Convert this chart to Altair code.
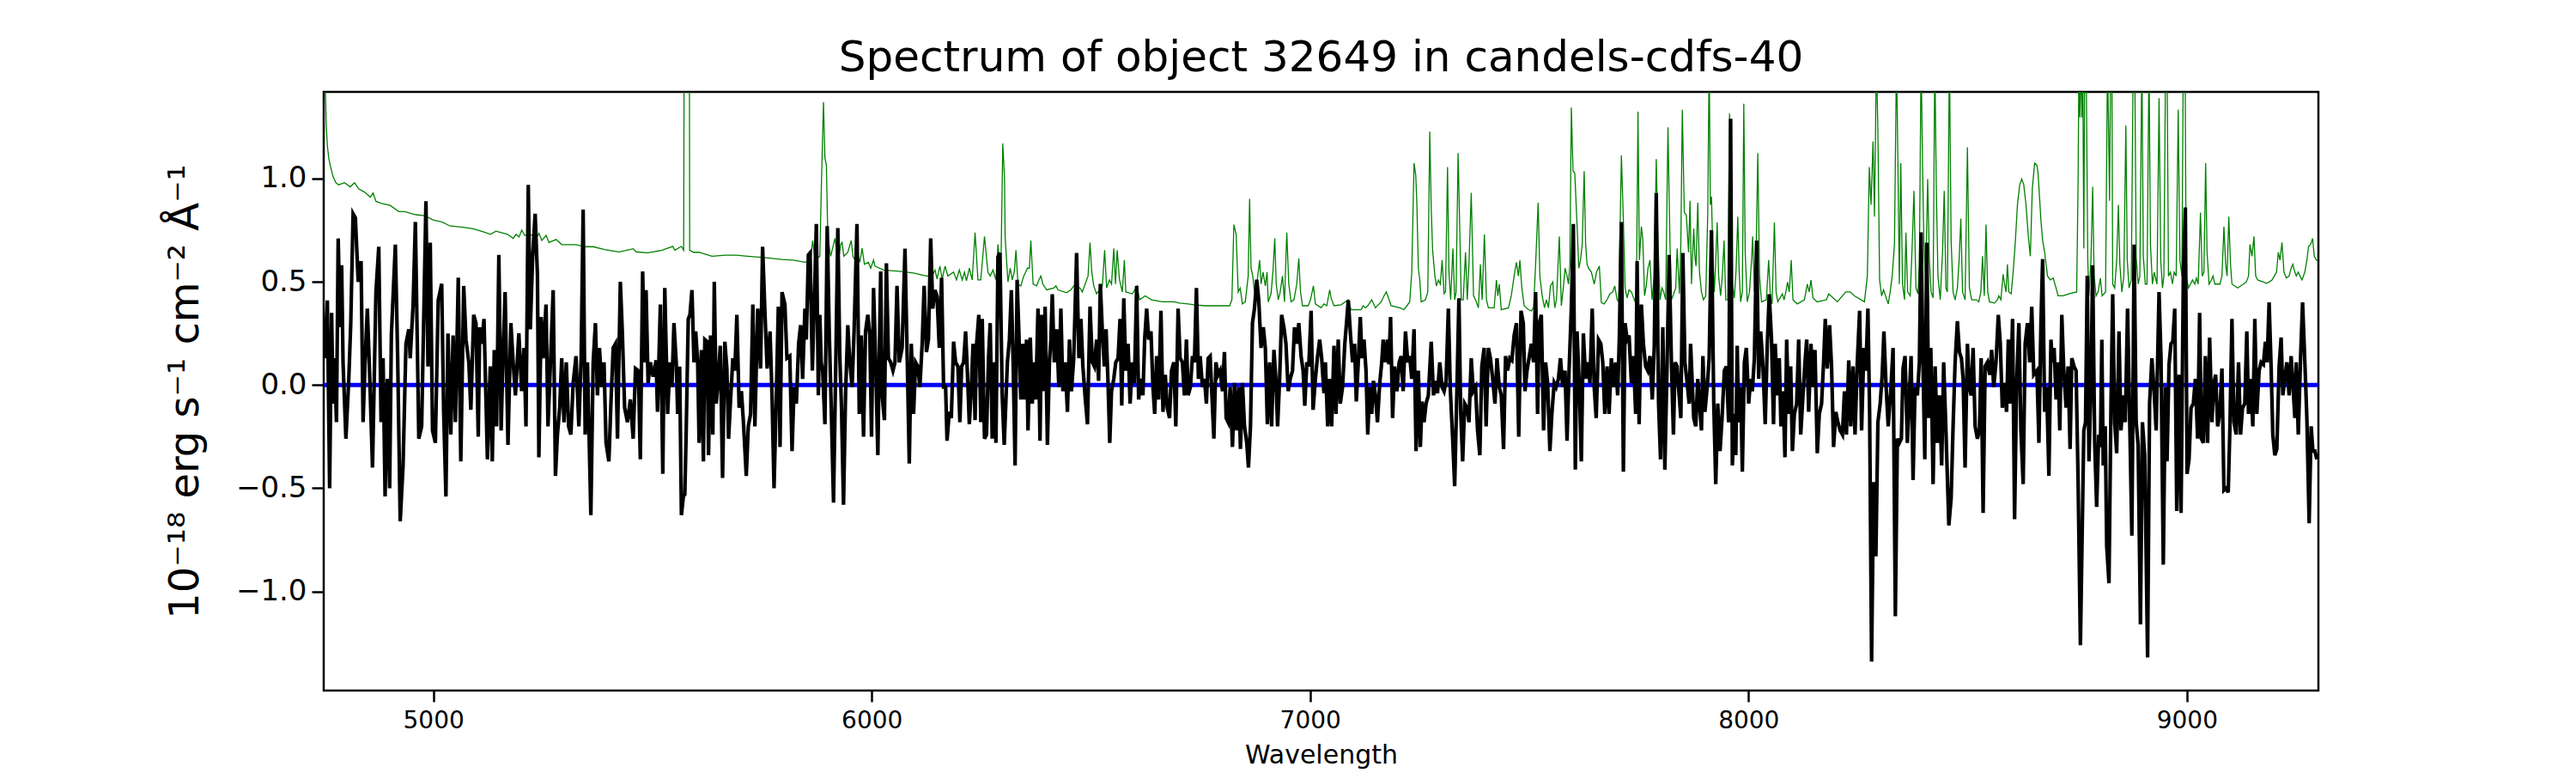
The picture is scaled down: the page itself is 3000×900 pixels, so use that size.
import altair as alt
import pandas as pd

TITLE = "Spectrum of object 32649 in candels-cdfs-40"
X_TITLE = "Wavelength"
Y_TITLE = "10\u207b\u00b9\u2078 erg s\u207b\u00b9 cm\u207b\u00b2 \u00c5\u207b\u00b9"
X_DOMAIN = [4750, 9300]
Y_DOMAIN = [-1.48, 1.42]
X_TICKS = [5000, 6000, 7000, 8000, 9000]
Y_TICKS = [-1.0, -0.5, 0.0, 0.5, 1.0]

FLUX_A = [
(4751.7,0.13),(4758.3,0.41),(4763.5,-0.50),(4768.0,0.35),(4771.3,-0.09),(4774.6,0.13),(4779.1,-0.18),(4783.0,0.71),
(4787.6,0.28),(4790.9,0.58),(4794.1,0.11),(4800.6,-0.26),(4807.2,0.03),(4811.7,0.30),(4817.0,0.83),(4822.2,0.81),
(4828.7,0.50),(4835.2,0.60),(4839.8,-0.18),(4844.3,0.11),(4849.5,0.37),(4854.8,0.05),(4861.3,-0.40),(4869.1,0.45),
(4875.6,0.67),(4880.8,-0.18),(4885.4,0.13),(4890.0,-0.54),(4895.2,0.03),(4900.4,-0.50),(4904.3,0.24),(4913.4,0.68),
(4918.7,0.13),(4924.5,-0.66),(4931.0,-0.39),(4937.6,0.20),(4944.1,0.27),(4947.3,0.13),(4953.9,0.39),(4959.1,0.79),
(4966.9,-0.26),(4973.4,-0.20),(4983.2,0.89),(4987.8,0.09),(4993.0,0.69),(4998.2,-0.22),(5004.7,-0.28),(5011.2,0.41),
(5019.1,0.49),(5023.6,-0.13),(5028.8,-0.54),(5033.4,0.25),(5039.9,-0.24),(5045.1,0.24),(5050.4,-0.18),(5056.9,0.52),
(5062.7,-0.37),(5069.3,0.48),(5074.5,0.22),(5081.0,0.11),(5085.6,-0.12),(5092.1,0.34),(5097.3,0.30),(5102.5,-0.25),
(5105.8,0.28),(5110.3,0.20),(5115.6,0.32),(5123.4,-0.36),(5129.9,0.09),(5134.5,-0.37),(5139.0,0.17),(5144.3,-0.20),
(5149.5,0.63),(5154.7,-0.22),(5159.2,0.15),(5163.8,0.45),(5170.3,-0.29),(5176.9,0.30),(5182.1,0.11),(5187.3,-0.05),
(5195.1,0.25),(5201.6,-0.03),(5206.9,0.18),(5211.4,-0.20),(5216.6,0.97),(5221.2,0.27),(5226.4,0.61),(5232.3,0.83),
(5237.5,0.53),(5240.8,-0.35),(5246.0,0.33),(5250.5,0.13),(5257.1,0.39),(5261.6,-0.20),(5266.9,0.09),(5273.4,0.46),
(5278.6,-0.44),(5283.1,-0.24),(5288.3,-0.11),(5292.9,0.13),(5298.1,-0.18),(5303.3,0.11),(5308.6,-0.20),(5313.8,-0.24),
(5319.0,0.01),(5325.5,0.14),(5332.0,-0.20),(5337.2,0.13),(5341.8,0.85),(5346.4,-0.24),(5351.6,0.11),(5354.8,-0.20),
(5359.4,-0.63),(5364.6,0.11),(5369.8,0.30),(5374.4,-0.05),(5379.0,0.18),(5384.2,-0.01),(5389.4,0.11),(5394.0,-0.28),
(5400.5,-0.37),(5405.1,-0.09),(5410.3,0.18),(5415.5,0.20),(5420.1,-0.26),(5426.6,0.50),(5431.1,0.26),(5436.4,-0.11),
(5442.9,-0.18),(5449.4,-0.07),(5455.9,-0.26),(5461.2,0.08),(5467.7,0.07),(5472.2,-0.36),(5477.5,0.55),(5482.0,0.11),
(5485.3,0.46),(5489.9,0.01),(5495.1,0.11),(5501.6,0.04),(5508.2,0.12),(5511.4,-0.13),(5517.9,0.39),
]
FLUX_B = [
(5523.5,-0.43),(5528.0,0.47),(5534.5,-0.14),(5539.8,0.11),(5544.3,-0.01),(5548.9,0.30),(5554.1,0.11),(5557.4,-0.14),
(5561.9,0.09),(5565.9,-0.63),(5570.4,-0.54),(5573.7,-0.53),(5576.9,-0.22),(5581.5,0.32),(5585.4,0.34),(5590.0,0.46),
(5594.6,0.11),(5598.5,0.26),(5603.0,0.11),(5606.3,-0.28),(5611.5,0.17),(5616.1,-0.37),(5619.3,0.22),(5624.6,0.21),
(5627.8,-0.34),(5632.4,0.24),(5637.6,-0.24),(5640.9,0.50),(5645.4,-0.09),(5650.0,0.03),(5654.6,0.19),(5659.8,-0.45),
(5665.0,0.21),(5669.6,0.08),(5673.5,-0.26),(5678.1,-0.07),(5683.3,0.13),(5687.8,0.07),(5692.4,0.34),(5697.6,-0.11),
(5702.8,-0.03),(5707.4,-0.18),(5713.9,-0.44),(5718.5,-0.20),(5723.7,-0.14),(5728.9,0.39),(5733.5,-0.20),(5740.0,0.37),
(5746.5,0.08),(5751.1,0.67),(5756.3,0.36),(5761.5,0.08),(5768.1,0.26),(5772.6,-0.05),(5777.2,-0.50),(5782.4,-0.05),
(5787.0,0.38),(5790.9,-0.30),(5795.5,0.45),(5802.0,0.39),(5806.6,0.13),(5813.1,0.14),(5818.3,-0.32),(5822.9,-0.01),
(5828.1,-0.09),(5833.3,0.20),(5837.9,0.29),(5842.4,0.03),(5847.7,0.37),(5850.9,0.22),(5855.5,0.63),(5859.4,0.64),
(5864.6,0.07),(5868.5,0.36),(5873.7,0.78),(5878.3,-0.05),(5881.6,0.34),(5884.8,0.11),(5888.1,0.07),(5893.3,-0.19),
(5898.5,0.77),(5903.1,0.26),(5907.7,-0.11),(5912.9,-0.57),(5918.1,0.11),(5922.7,0.76),(5927.2,0.14),(5931.1,-0.11),
(5935.7,-0.58),(5940.3,-0.05),(5945.5,0.29),(5950.1,0.11),(5955.3,-0.01),(5959.8,0.26),(5966.4,0.78),(5971.6,-0.14),
(5976.1,0.24),(5981.4,-0.25),(5985.9,0.26),(5991.1,0.34),(5995.7,0.24),(5999.6,-0.25),(6004.2,0.47),(6008.8,0.13),
(6014.0,-0.34),(6017.2,0.13),(6020.5,0.55),(6023.8,-0.05),(6029.0,-0.17),(6033.5,0.59),(6038.1,0.13),(6043.3,0.11),
(6048.5,0.07),(6053.1,0.11),(6057.7,0.48),(6062.9,0.11),(6069.4,0.18),(6075.9,0.66),(6081.2,0.11),(6085.7,-0.38),
(6090.3,0.20),(6095.5,-0.14),(6100.1,0.11),(6105.3,0.09),(6109.9,-0.01),(6115.1,0.20),(6119.6,0.48),(6124.9,0.16),
(6129.4,0.22),(6134.6,0.71),(6139.2,0.37),(6144.4,0.46),(6149.0,0.43),(6154.2,0.18),(6159.4,0.52),(6164.0,-0.01),
(6168.6,-0.01),(6171.8,-0.27),(6177.0,-0.13),(6181.6,-0.16),(6186.8,0.21),(6191.4,0.11),(6196.6,0.09),(6201.2,-0.18),
(6205.1,0.09),(6209.7,0.11),(6214.2,0.26),(6218.1,0.07),(6222.7,-0.19),(6227.3,-0.01),(6231.2,0.20),(6235.8,-0.17),
(6239.0,0.19),(6244.3,0.34),(6248.8,-0.18),(6252.1,0.32),(6257.3,-0.26),(6261.9,-0.24),(6266.4,0.13),(6270.3,0.30),
(6274.9,-0.26),(6279.5,0.11),(6283.4,-0.28),(6288.0,0.62),(6292.5,0.64),(6297.7,-0.05),(6302.3,-0.29),
]
FLUX_C = [
(6309.5,0.11),(6314.1,0.22),(6318.6,0.46),(6322.6,0.11),(6327.1,-0.39),(6331.7,0.51),(6335.6,0.26),(6340.2,-0.07),
(6344.7,0.20),(6348.7,-0.07),(6353.2,0.22),(6356.5,-0.22),(6361.7,0.23),(6366.3,-0.09),(6369.5,0.11),(6374.1,-0.07),
(6379.3,0.37),(6383.9,-0.27),(6387.8,0.34),(6392.4,-0.03),(6395.6,0.38),(6400.8,-0.29),(6405.4,0.11),(6408.7,0.22),
(6411.9,0.44),(6416.5,0.11),(6421.7,0.27),(6426.9,-0.01),(6431.5,0.37),(6436.1,-0.03),(6441.3,0.11),(6446.5,-0.13),
(6451.1,0.22),(6455.6,-0.03),(6460.8,0.13),(6467.4,0.64),(6472.6,0.13),(6477.2,0.32),(6481.7,0.09),(6486.9,-0.06),
(6492.2,-0.19),(6498.0,0.38),(6503.3,0.11),(6507.8,0.09),(6513.0,0.22),(6517.6,0.02),(6521.5,0.49),(6526.1,0.26),
(6530.6,0.09),(6534.6,0.27),(6539.1,0.01),(6543.0,-0.28),(6547.0,-0.03),(6552.2,0.03),(6556.7,0.11),(6562.0,0.13),
(6566.5,0.32),(6570.4,-0.10),(6575.0,0.42),(6579.6,0.07),(6584.8,0.20),(6589.4,-0.09),(6594.6,0.11),(6599.1,0.01),
(6604.4,0.48),(6608.9,-0.07),(6614.1,0.03),(6618.7,-0.05),(6622.6,0.22),(6627.2,0.37),(6631.8,0.22),(6637.0,0.26),
(6641.5,-0.01),(6645.5,-0.14),(6650.0,0.14),(6654.6,-0.07),(6659.8,0.36),(6664.4,-0.13),(6669.6,0.05),(6674.2,-0.11),
(6679.4,-0.16),(6683.9,0.07),(6689.2,0.11),(6693.7,-0.20),(6698.9,0.37),(6703.5,0.13),(6708.7,0.11),(6713.3,-0.05),
(6717.9,0.22),(6721.8,-0.05),(6727.0,-0.01),(6731.6,0.14),(6736.1,0.11),(6740.7,0.47),(6745.3,0.03),(6749.2,0.14),
(6754.4,-0.01),(6759.0,0.03),(6763.5,-0.09),(6767.4,0.13),(6772.0,0.14),(6776.9,-0.09),(6780.5,-0.26),(6785.1,0.11),
(6790.3,0.05),(6794.8,0.07),(6800.1,-0.03),(6804.6,0.16),(6808.5,-0.16),(6813.1,-0.18),(6817.7,-0.01),(6822.9,-0.30),
(6827.5,0.01),(6832.7,-0.22),(6837.2,-0.01),(6841.1,-0.31),(6845.7,0.01),(6850.3,-0.20),(6855.5,-0.28),(6859.4,-0.40),
(6864.0,-0.20),(6868.5,0.30),(6873.1,0.37),(6878.3,0.51),(6882.9,0.41),(6888.1,0.18),(6893.3,0.28),(6897.9,0.18),
(6902.5,-0.19),(6907.7,0.11),(6912.2,-0.20),(6917.5,0.17),(6922.0,0.03),(6925.9,-0.20),(6930.5,0.03),(6935.1,0.34),
(6940.3,0.28),(6944.9,0.20),(6950.1,-0.03),(6954.6,0.03),(6959.9,0.07),(6964.4,0.28),(6969.6,0.20),(6974.2,0.30),
(6979.4,0.14),(6984.0,0.07),(6987.9,-0.10),(6992.5,0.11),(6997.0,0.09),(7002.3,0.36),(7006.8,-0.12),(7012.1,0.03),
(7016.6,0.13),(7021.8,0.22),(7026.4,0.13),(7031.6,-0.04),(7034.9,0.11),(7040.1,-0.20),(7044.7,0.03),(7049.2,-0.20),
(7054.5,0.19),(7059.0,-0.14),(7064.2,0.22),(7068.8,-0.09),(7074.0,-0.01),(7079.2,0.20),(7083.8,0.32),
]
FLUX_D = [
(7087.1,0.41),(7092.3,0.24),(7096.9,0.11),(7101.5,0.20),(7105.4,-0.08),(7109.9,0.11),(7114.5,0.33),(7118.4,0.13),
(7123.0,0.22),(7127.5,0.07),(7131.5,-0.24),(7136.0,-0.01),(7140.6,-0.14),(7144.5,0.02),(7149.1,-0.05),(7153.6,-0.18),
(7158.9,0.01),(7163.4,0.11),(7166.7,0.22),(7171.9,0.11),(7176.5,0.22),(7179.7,0.10),(7183.6,0.33),(7188.2,-0.16),
(7192.8,0.09),(7198.0,-0.03),(7203.2,0.11),(7207.8,0.14),(7212.3,-0.03),(7217.6,0.26),(7222.8,0.11),(7227.3,0.14),
(7231.9,0.03),(7237.1,0.27),(7241.7,-0.32),(7246.9,0.07),(7251.5,-0.30),(7255.4,-0.08),(7260.0,-0.18),(7264.5,-0.09),
(7269.7,-0.05),(7276.3,0.21),(7281.5,-0.05),(7286.1,0.02),(7290.6,-0.04),(7295.8,0.11),(7301.1,-0.01),(7305.6,-0.03),
(7310.2,0.02),(7315.4,0.37),(7320.0,-0.03),(7325.2,-0.26),(7329.8,-0.49),(7335.0,-0.01),(7339.5,0.42),(7343.5,-0.13),
(7348.0,-0.37),(7352.6,-0.09),(7357.8,-0.11),(7362.4,-0.18),(7367.6,0.13),(7372.2,-0.03),(7377.4,-0.01),(7382.0,-0.22),
(7387.2,-0.34),(7391.7,0.09),(7397.0,0.18),(7401.5,-0.20),(7406.7,0.18),(7411.3,0.13),(7416.5,0.03),(7421.7,-0.09),
(7426.3,0.13),(7431.5,-0.01),(7436.1,-0.05),(7441.3,-0.31),(7445.9,0.14),(7450.4,0.07),(7455.6,0.13),(7460.2,0.12),
(7465.4,0.24),(7470.7,0.30),(7475.9,-0.25),(7481.1,0.36),(7486.3,0.30),(7490.2,-0.03),(7494.8,0.07),(7499.4,0.13),
(7504.6,0.20),(7509.8,0.11),(7514.4,0.45),(7518.9,-0.14),(7522.8,0.30),(7527.4,0.34),(7532.6,-0.22),(7537.2,0.11),
(7541.8,0.01),(7547.0,-0.32),(7551.5,-0.14),(7556.8,0.01),(7561.3,-0.01),(7566.5,0.03),(7571.1,0.13),(7576.3,-0.01),
(7581.5,0.07),(7586.1,-0.27),(7590.7,0.07),(7595.9,0.37),(7600.5,0.78),(7605.0,-0.41),(7608.9,0.26),(7614.2,-0.01),
(7618.7,-0.37),(7623.3,0.25),(7628.5,0.03),(7633.1,0.11),(7638.3,0.01),(7643.5,0.37),(7648.1,-0.01),(7652.6,-0.16),
(7657.9,0.22),(7663.1,0.20),(7667.6,0.11),(7672.2,-0.14),(7677.4,0.09),(7682.0,-0.14),(7687.2,0.13),(7691.8,-0.01),
(7697.0,0.11),(7701.6,-0.05),(7705.5,0.24),(7710.1,0.79),(7714.6,-0.42),(7718.5,0.30),(7723.1,0.22),(7727.6,0.24),
(7732.9,0.01),(7737.4,0.14),(7742.7,-0.14),(7745.9,0.60),(7750.5,-0.19),(7755.7,0.39),(7760.3,0.20),(7765.5,0.09),
(7770.1,0.07),(7775.3,0.14),(7780.5,-0.07),(7785.1,0.19),(7789.6,0.93),(7794.9,-0.09),(7799.4,-0.36),(7804.6,0.28),
(7809.2,-0.41),(7814.4,0.11),(7819.0,0.63),(7824.2,0.11),(7828.8,-0.24),(7832.7,0.11),(7837.3,0.09),(7841.8,-0.05),
(7845.7,-0.16),(7850.3,0.64),(7854.9,0.11),(7860.1,0.01),(7864.7,-0.09),(7867.9,0.20),
]
FLUX_E = [
(7875.1,-0.16),(7879.7,-0.20),(7884.3,0.03),(7888.2,-0.09),(7892.7,-0.22),(7896.0,0.14),(7900.6,-0.13),(7905.8,-0.01),
(7910.3,0.13),(7915.6,0.75),(7920.8,-0.09),(7925.3,-0.48),(7929.9,-0.09),(7935.1,-0.32),(7939.7,-0.16),(7944.9,0.07),
(7949.5,0.09),(7954.7,-0.18),(7959.3,1.29),(7963.2,-0.39),(7967.7,-0.14),(7971.0,-0.34),(7974.3,0.19),(7977.5,-0.18),
(7982.1,-0.01),(7986.0,-0.42),(7990.6,0.11),(7995.1,0.18),(8000.4,-0.09),(8004.9,0.03),(8008.8,-0.03),(8013.4,0.13),
(8018.6,0.70),(8023.2,0.03),(8027.8,0.26),(8033.0,0.09),(8038.2,-0.19),(8042.8,0.19),(8047.3,0.44),(8052.5,0.22),
(8057.1,-0.19),(8061.0,0.20),(8065.6,-0.05),(8070.2,0.13),(8074.1,-0.20),(8078.6,-0.03),(8083.2,-0.35),(8087.1,0.22),
(8091.7,-0.14),(8096.2,0.09),(8100.2,-0.32),(8104.7,-0.14),(8109.9,-0.09),(8114.5,0.22),(8119.1,-0.24),(8124.3,-0.05),
(8128.9,0.11),(8132.8,0.22),(8137.3,-0.13),(8142.6,0.20),(8147.1,-0.01),(8151.7,0.17),(8156.9,-0.33),(8161.5,-0.14),
(8166.7,-0.09),(8171.3,0.11),(8175.2,0.32),(8179.7,0.08),(8185.0,0.29),(8189.5,0.09),(8194.1,-0.30),(8199.3,-0.13),
(8203.9,-0.18),(8209.1,-0.22),(8214.3,-0.24),(8218.9,-0.03),(8223.4,-0.24),(8228.7,0.12),(8233.2,-0.20),(8238.4,0.09),
(8243.0,-0.24),(8248.2,0.11),(8253.5,0.36),(8258.0,-0.22),(8263.2,0.18),(8267.8,0.07),(8272.4,0.37),(8276.3,-0.13),
(8280.8,-1.34),(8285.4,-0.47),(8290.6,-0.83),(8295.2,-0.18),(8300.4,-0.09),(8305.0,0.05),(8308.9,0.26),(8313.5,0.01),
(8318.7,-0.20),(8324.5,-0.03),(8329.8,0.18),(8335.0,-1.12),(8339.6,-0.26),(8344.1,-0.28),(8348.7,-0.26),(8352.6,0.08),
(8357.2,0.14),(8362.4,-0.28),(8367.0,-0.05),(8370.9,0.14),(8375.4,-0.46),(8380.0,-0.01),(8385.2,-0.05),(8389.8,0.11),
(8393.7,0.74),(8398.3,0.07),(8402.2,-0.36),(8406.7,0.69),(8411.3,-0.16),(8415.9,0.18),(8421.1,-0.48),(8425.7,0.09),
(8430.9,-0.28),(8435.4,-0.05),(8440.7,-0.39),(8445.2,0.11),(8450.4,-0.22),(8457.0,-0.68),(8462.2,-0.55),(8466.7,-0.20),
(8471.3,0.11),(8476.5,0.31),(8481.1,0.16),(8485.7,0.13),(8489.6,0.03),(8494.1,-0.40),(8499.4,0.20),(8503.9,-0.01),
(8507.8,-0.05),(8512.4,0.18),(8517.0,-0.20),(8522.2,-0.26),(8526.8,-0.22),(8530.7,0.13),(8535.2,-0.62),(8539.8,0.09),
(8545.0,0.11),(8550.3,0.05),(8554.8,0.17),(8559.4,-0.01),(8564.6,0.11),(8569.8,0.34),(8574.4,0.20),(8579.0,-0.11),
(8584.2,0.01),(8588.7,-0.13),(8592.7,0.22),(8597.2,-0.09),(8602.4,0.32),(8607.0,-0.65),(8611.6,0.01),(8616.8,0.30),
(8621.4,-0.22),(8626.6,-0.48),(8631.1,0.20),(8636.4,0.30),(8641.6,0.11),(8646.1,0.38),(8650.7,0.05),
]
FLUX_F = [
(8657.9,0.07),(8662.5,-0.28),(8667.1,0.30),(8671.0,0.61),(8675.5,-0.13),(8680.1,-0.01),(8685.3,-0.44),(8689.9,0.22),
(8693.1,0.11),(8697.1,0.18),(8701.6,-0.07),(8706.2,0.11),(8710.1,-0.22),(8714.7,0.34),(8719.2,0.07),(8724.5,-0.11),
(8729.0,0.09),(8733.6,-0.31),(8737.5,0.13),(8742.7,0.09),(8747.3,0.07),(8751.9,-0.47),(8757.1,-1.26),(8761.6,-0.66),
(8764.9,-0.22),(8768.8,-0.18),(8772.7,0.53),(8776.6,-0.37),(8781.2,-0.01),(8785.1,0.58),(8789.7,-0.28),(8794.2,-0.59),
(8798.8,-0.24),(8802.7,-0.30),(8806.0,0.22),(8809.2,-0.39),(8813.8,-0.20),(8817.1,-0.78),(8822.3,-0.96),(8826.9,-0.09),
(8830.8,0.44),(8835.3,-0.18),(8839.9,-0.33),(8845.1,0.26),(8849.7,-0.22),(8854.9,-0.05),(8859.5,-0.18),(8864.7,0.37),
(8869.3,-0.14),(8874.5,-0.73),(8879.7,0.68),(8884.3,-0.18),(8888.8,-0.29),(8894.1,-1.16),(8898.6,-0.18),(8903.8,-0.34),
(8910.4,-1.32),(8914.9,-0.09),(8920.2,0.13),(8924.7,-0.01),(8929.9,-0.22),(8936.5,0.45),(8941.0,0.13),(8946.2,-0.87),
(8950.8,-0.01),(8954.7,-0.37),(8959.3,0.10),(8963.8,0.20),(8967.8,0.21),(8972.3,0.37),(8976.9,-0.61),(8982.1,0.05),
(8986.7,-0.62),(8991.9,0.53),(8996.5,0.86),(9000.4,-0.43),(9004.9,-0.36),(9009.5,-0.11),(9014.7,-0.09),(9019.3,0.03),
(9024.5,-0.26),(9029.1,0.35),(9033.0,-0.26),(9037.6,-0.28),(9042.1,0.14),(9047.3,-0.28),(9051.9,0.23),(9057.1,-0.18),
(9061.7,0.01),(9065.6,0.05),(9070.2,-0.20),(9075.4,-0.13),(9080.0,0.08),(9084.5,-0.51),(9089.7,-0.50),(9094.3,-0.52),
(9098.2,-0.20),(9102.8,0.32),(9107.3,-0.18),(9112.6,-0.24),(9117.8,0.11),(9122.4,-0.24),(9126.9,-0.11),(9132.1,-0.09),
(9136.7,0.26),(9140.6,-0.14),(9145.2,0.03),(9150.4,-0.20),(9155.0,0.32),(9159.5,-0.14),(9164.8,0.07),(9169.3,0.11),
(9174.5,0.10),(9179.1,0.21),(9183.0,0.11),(9187.6,0.40),(9192.1,0.09),(9196.0,-0.24),(9200.6,-0.34),(9205.2,-0.31),
(9210.4,0.09),(9215.0,0.23),(9218.9,-0.05),(9223.4,0.03),(9228.0,0.11),(9233.2,-0.05),(9237.8,0.14),(9241.7,0.01),
(9246.3,-0.16),(9249.5,0.11),(9254.1,-0.24),(9259.3,0.13),(9263.9,0.40),(9269.1,0.11),(9273.7,-0.16),(9278.9,-0.67),
(9283.5,-0.20),(9287.4,-0.32),(9291.9,-0.32),(9296.5,-0.36),
]

# noise spectrum (wavelength, sigma); sky lines run off the top
NOISE_A = [
(4750.0,1.90),(4753.5,1.45),(4755.7,1.26),(4758.3,1.16),(4761.5,1.10),(4764.8,1.065),(4771.3,1.01),(4777.8,0.98),
(4784.4,0.97),(4797.4,0.98),(4810.5,0.96),(4820.2,0.98),(4830.0,0.95),(4843.1,0.935),(4856.1,0.91),(4862.6,0.93),
(4869.1,0.89),(4882.2,0.88),(4901.8,0.87),(4921.3,0.84),(4934.4,0.84),(4960.5,0.825),(4980.1,0.82),(4999.6,0.80),
(5019.2,0.79),(5038.8,0.77),(5064.8,0.765),(5091.0,0.757),(5117.0,0.74),(5130.1,0.73),(5143.1,0.745),(5169.2,0.73),
(5182.3,0.71),(5188.8,0.73),(5195.3,0.717),(5201.8,0.75),(5208.4,0.725),(5221.4,0.73),(5234.5,0.71),(5241.0,0.735),
(5247.5,0.70),(5257.3,0.725),(5263.8,0.69),(5280.1,0.705),(5293.2,0.68),(5325.8,0.68),(5345.3,0.67),(5364.9,0.67),
(5391.0,0.656),(5423.6,0.645),(5456.2,0.66),(5462.8,0.645),(5488.8,0.64),(5521.5,0.653),
]
NOISE_B = [
(5546.3,0.672),(5550.9,0.653),(5565.9,0.672),(5571.1,0.653),(5573.0,2.5),(5583.5,2.5),(5584.8,0.653),(5593.3,0.643),
(5606.3,0.643),(5635.7,0.624),(5665.0,0.629),(5691.1,0.629),(5717.2,0.624),(5743.3,0.620),(5769.4,0.614),(5795.5,0.608),
(5821.6,0.605),(5847.7,0.595),(5860.7,0.605),(5865.3,0.700),(5870.5,0.605),(5881.6,0.624),(5885.5,0.99),(5890.0,1.37),
(5893.3,1.10),(5896.6,1.065),(5899.8,0.72),(5906.4,0.624),(5912.9,0.681),(5916.1,0.71),(5920.7,0.643),(5924.6,0.614),
(5929.2,0.681),(5932.5,0.691),(5936.4,0.624),(5945.5,0.643),(5953.3,0.70),(5957.2,0.624),(5961.8,0.605),(5968.3,0.633),
(5972.9,0.595),(5978.1,0.662),(5983.3,0.585),(5992.5,0.595),(5997.7,0.566),(6004.2,0.605),(6007.5,0.576),(6027.0,0.557),
(6062.9,0.551),(6095.5,0.543),(6124.9,0.528),(6137.9,0.528),(6144.4,0.557),(6149.0,0.514),(6155.5,0.576),(6160.7,0.514),
(6167.3,0.576),(6173.8,0.528),(6186.8,0.547),(6193.4,0.509),(6199.9,0.557),(6206.4,0.509),(6211.6,0.547),(6216.2,0.505),
(6222.7,0.566),(6229.2,0.509),(6235.8,0.739),(6242.3,0.509),(6248.8,0.509),(6257.3,0.72),(6265.1,0.547),(6270.3,0.528),
(6276.7,0.557),(6283.4,0.509),(6288.0,0.681),(6294.5,0.528),(6299.0,1.17),(6303.0,1.00),
]
NOISE_C = [
(6304.3,0.72),(6307.6,0.605),(6310.8,0.50),(6316.0,0.566),(6320.6,0.509),(6325.2,0.547),(6329.1,0.653),(6333.7,0.489),
(6340.2,0.480),(6346.7,0.528),(6351.3,0.547),(6355.2,0.566),(6359.7,0.566),(6363.0,0.70),(6368.2,0.489),(6376.1,0.480),
(6381.3,0.509),(6385.8,0.528),(6390.4,0.489),(6398.9,0.461),(6415.2,0.470),(6420.4,0.480),(6425.0,0.461),(6444.5,0.447),
(6454.3,0.461),(6460.8,0.480),(6475.2,0.470),(6480.4,0.451),(6486.9,0.489),(6493.5,0.528),(6498.0,0.69),(6502.0,0.547),
(6506.5,0.480),(6513.0,0.442),(6519.6,0.461),(6526.1,0.480),(6531.3,0.653),(6535.9,0.470),(6542.4,0.509),(6547.0,0.489),
(6552.2,0.662),(6556.1,0.489),(6560.0,0.653),(6565.2,0.509),(6571.7,0.451),(6576.3,0.605),(6579.6,0.451),(6594.6,0.442),
(6605.7,0.480),(6610.9,0.413),(6623.9,0.432),(6638.3,0.413),(6663.1,0.403),(6689.2,0.403),(6702.2,0.397),(6721.8,0.393),
(6734.8,0.389),(6760.9,0.384),(6816.4,0.384),(6821.6,0.413),(6826.1,0.777),(6831.4,0.729),(6835.9,0.451),(6840.5,0.470),
(6845.7,0.393),(6852.2,0.403),(6858.8,0.528),(6862.0,0.902),(6865.3,0.566),(6869.2,0.528),(6873.1,0.451),(6878.3,0.489),
(6884.9,0.605),(6888.1,0.489),(6892.7,0.547),(6897.9,0.480),(6901.8,0.547),(6904.4,0.403),(6910.9,0.442),(6915.5,0.557),
(6919.4,0.71),(6922.7,0.489),(6927.3,0.413),(6931.8,0.451),(6937.0,0.528),(6941.6,0.403),(6946.8,0.739),(6951.4,0.489),
(6956.6,0.403),(6963.1,0.413),(6969.6,0.489),(6974.2,0.614),(6978.1,0.451),(6982.7,0.384),(6995.7,0.384),(7000.9,0.413),
(7007.5,0.480),(7012.1,0.393),(7025.1,0.374),(7031.6,0.393),(7038.1,0.384),(7044.7,0.461),(7047.9,0.422),(7054.5,0.384),
(7070.7,0.389),
]
NOISE_D = [
(7087.1,0.413),(7093.6,0.365),(7116.5,0.365),(7121.0,0.384),(7126.2,0.374),(7131.5,0.384),(7140.6,0.413),(7149.1,0.374),
(7162.1,0.403),(7168.6,0.432),(7173.9,0.451),(7184.9,0.384),(7204.5,0.374),(7214.3,0.365),(7220.8,0.384),(7227.3,0.403),
(7231.9,0.547),(7237.1,1.075),(7241.0,1.017),(7243.6,0.873),(7246.9,0.566),(7250.2,0.509),(7253.4,0.403),(7263.2,0.413),
(7268.4,0.451),(7273.0,1.228),(7276.3,0.854),(7279.5,0.653),(7284.7,0.528),(7288.0,0.480),(7292.6,0.509),(7297.1,0.489),
(7301.1,0.605),(7305.6,0.442),(7308.9,0.451),(7313.5,1.056),(7316.7,0.547),(7320.6,0.413),(7325.8,0.662),(7329.8,0.413),
(7333.0,0.451),(7337.6,1.123),(7340.2,0.873),(7344.8,0.413),(7349.3,0.413),(7354.5,0.643),(7358.5,0.413),(7362.4,0.585),
(7367.6,0.931),(7372.8,0.432),(7377.4,0.413),(7383.9,0.374),(7388.5,0.585),(7392.4,0.413),(7397.6,0.729),(7402.2,0.413),
(7406.7,0.374),(7419.8,0.374),(7425.0,0.509),(7428.3,0.432),(7431.5,0.489),(7436.1,0.365),(7452.4,0.374),(7458.9,0.432),
(7466.7,0.547),(7470.7,0.595),(7475.2,0.528),(7478.5,0.605),(7483.0,0.470),(7488.3,0.384),(7498.1,0.365),(7504.6,0.359),
(7509.8,0.374),(7514.4,0.585),(7520.2,0.883),(7524.1,0.528),(7529.4,0.432),(7534.6,0.374),(7539.2,0.413),(7543.7,0.374),
(7548.3,0.480),(7553.5,0.499),(7558.1,0.374),(7562.0,0.413),(7568.5,0.72),(7573.1,0.384),(7577.6,0.470),(7581.5,0.566),
(7586.1,0.528),(7589.4,0.489),(7592.6,0.585),(7595.9,1.344),(7599.8,1.036),(7603.7,1.027),(7608.9,0.777),(7612.9,0.566),
(7616.8,0.605),(7620.7,0.681),(7625.2,1.036),(7628.5,0.681),(7631.8,0.585),(7635.0,0.566),(7641.6,0.547),(7648.1,0.489),
(7653.3,0.547),(7659.8,0.576),(7664.4,0.399),(7670.9,0.393),(7677.4,0.413),(7683.9,0.442),(7690.5,0.451),(7695.0,0.480),
(7700.3,0.413),(7704.2,0.403),(7710.1,1.113),(7714.6,0.797),(7718.5,0.470),(7723.1,0.422),(7727.6,0.461),(7732.9,0.451),
(7741.4,0.403),(7744.6,0.489),(7747.9,1.324),(7751.1,0.605),(7755.7,0.768),(7759.0,0.701),(7762.9,0.432),(7766.8,0.480),
(7770.7,0.566),(7775.3,0.605),(7779.9,0.413),(7785.1,0.528),(7789.6,1.094),(7793.5,0.701),(7798.1,0.413),(7802.7,0.470),
(7806.6,0.451),(7811.1,0.413),(7816.3,1.248),(7820.9,0.681),(7824.2,0.413),(7829.4,0.442),(7834.0,0.470),(7837.3,0.662),
(7842.5,0.442),(7845.7,0.681),(7849.0,1.334),(7853.6,0.835),(7858.1,0.825),(7863.3,0.643),(7866.6,0.893),
]
NOISE_E = [
(7869.9,0.489),(7875.1,0.758),(7877.7,0.624),(7880.3,0.576),(7884.3,0.883),(7888.2,0.547),(7892.7,0.451),(7897.3,0.413),
(7902.5,0.432),(7907.1,0.835),(7910.3,1.60),(7912.9,0.873),(7915.6,0.912),(7918.8,0.624),(7922.1,0.451),(7925.3,0.605),
(7928.6,0.787),(7931.9,0.528),(7936.4,0.432),(7940.3,0.528),(7944.3,0.70),(7948.2,0.413),(7952.7,0.413),(7956.7,1.315),
(7959.9,0.816),(7963.2,0.489),(7967.7,0.422),(7971.7,0.557),(7975.6,0.816),(7978.8,0.547),(7982.1,0.403),(7986.0,0.451),
(7989.3,1.363),(7992.5,0.643),(7997.1,0.403),(8002.3,0.451),(8006.9,0.605),(8009.5,0.72),(8013.4,0.451),(8017.3,0.624),
(8021.2,1.123),(8025.2,0.528),(8029.7,0.403),(8040.8,0.413),(8046.0,0.605),(8049.9,0.432),(8053.8,0.393),(8059.1,0.787),
(8063.0,0.451),(8066.9,0.403),(8077.3,0.442),(8081.2,0.413),(8085.2,0.451),(8089.1,0.499),(8093.0,0.451),(8097.5,0.605),
(8101.5,0.413),(8111.2,0.393),(8127.6,0.413),(8134.1,0.489),(8138.6,0.451),(8142.6,0.509),(8147.1,0.422),(8156.9,0.403),
(8177.8,0.413),(8183.0,0.442),(8188.2,0.432),(8202.6,0.403),(8222.1,0.451),(8231.9,0.451),(8241.7,0.432),(8264.5,0.403),
(8271.1,0.528),(8275.6,1.056),(8279.5,0.873),(8284.1,1.18),(8287.4,0.816),(8291.9,1.60),(8295.2,1.219),(8299.1,0.509),
(8303.7,0.432),(8308.2,0.461),(8318.7,0.393),(8323.2,0.451),(8327.8,0.528),(8333.0,0.681),(8337.6,1.60),(8340.9,1.065),
(8344.1,0.489),(8347.4,1.075),(8351.3,0.489),(8355.9,0.413),(8359.1,0.739),(8363.0,0.451),(8368.9,0.432),(8373.5,0.681),
(8377.4,0.94),(8382.0,0.470),(8386.5,0.442),(8389.8,0.585),(8393.7,1.60),(8397.0,1.065),(8400.2,0.681),(8404.1,0.489),
(8408.7,0.998),(8412.6,0.605),(8416.5,0.451),(8421.1,0.422),(8425.0,1.60),(8428.3,0.97),(8432.2,0.528),(8437.4,0.413),
(8442.6,0.643),(8446.5,0.94),(8450.4,0.470),(8453.7,0.451),(8458.3,1.60),(8462.2,0.701),(8466.7,0.451),(8471.3,0.413),
(8476.5,0.470),(8480.4,0.605),(8484.4,0.806),(8488.3,0.451),(8494.1,0.413),(8499.4,1.152),(8503.9,0.470),(8509.1,0.413),
(8520.2,0.413),(8525.4,0.403),(8530.0,0.451),(8533.9,0.624),(8537.9,0.432),(8541.8,0.777),(8545.7,0.451),(8549.6,0.403),
(8561.3,0.397),(8567.9,0.413),(8571.1,0.432),(8575.7,0.413),(8580.9,0.537),(8584.2,0.489),(8587.4,0.451),(8590.7,0.585),
(8593.9,0.451),(8599.2,0.442),(8603.7,0.547),(8608.3,0.681),(8613.5,0.873),(8618.7,0.97),(8623.3,0.998),(8627.9,0.97),
(8633.1,0.873),(8638.3,0.72),(8642.9,0.624),(8647.4,0.950),
]
NOISE_F = [
(8652.7,1.075),(8657.9,1.065),(8660.5,1.027),(8664.4,0.893),(8667.1,0.797),(8671.0,0.70),(8675.5,0.643),(8678.8,0.585),
(8682.1,0.528),(8688.6,0.509),(8695.1,0.518),(8701.6,0.470),(8706.2,0.432),(8717.9,0.432),(8731.0,0.442),(8748.6,0.451),
(8751.9,0.988),(8753.8,1.60),(8755.8,1.296),(8758.4,1.60),(8760.3,1.296),(8762.3,1.60),(8764.9,0.662),(8766.9,1.60),
(8770.1,1.60),(8774.0,0.60),(8776.6,0.432),(8781.2,0.605),(8785.1,0.96),(8788.4,0.528),(8792.9,0.432),(8797.5,0.451),
(8802.7,0.518),(8806.6,0.432),(8814.5,0.451),(8819.0,1.60),(8823.6,0.893),(8826.2,1.60),(8828.8,1.60),(8830.8,0.489),
(8835.3,0.470),(8839.9,0.605),(8843.8,0.873),(8847.1,0.586),(8851.7,0.451),(8856.2,0.528),(8860.8,1.257),(8864.0,0.605),
(8868.0,0.470),(8873.2,0.509),(8877.7,1.60),(8881.0,1.60),(8884.3,0.624),(8888.8,0.489),(8892.7,0.528),(8897.3,1.60),
(8900.6,0.624),(8905.1,0.489),(8909.1,0.489),(8913.6,1.60),(8916.9,0.681),(8921.4,0.489),(8925.4,0.547),(8931.9,0.489),
(8936.5,1.39),(8940.4,0.605),(8944.3,0.470),(8947.5,0.528),(8951.5,1.60),(8954.7,1.60),(8958.0,0.528),(8962.5,0.547),
(8967.1,0.489),(8971.0,0.547),(8975.6,0.528),(8980.2,1.334),(8984.1,0.605),(8988.6,0.528),(8991.9,1.60),(8995.8,1.60),
(8998.4,0.528),(9003.6,0.470),(9012.8,0.509),(9018.0,0.489),(9021.9,0.518),(9025.8,0.489),(9031.0,0.835),(9035.0,0.528),
(9038.9,0.547),(9042.8,1.075),(9046.0,0.643),(9050.6,0.489),(9055.8,0.509),(9059.7,0.528),(9063.7,0.489),(9075.4,0.489),
(9080.0,0.528),(9084.5,0.768),(9088.4,0.585),(9091.7,0.528),(9095.6,0.816),(9099.5,0.585),(9102.8,0.489),(9115.8,0.470),
(9128.9,0.489),(9135.4,0.499),(9140.6,0.528),(9143.9,0.681),(9148.5,0.624),(9153.0,0.72),(9156.9,0.528),(9161.5,0.509),
(9174.5,0.499),(9181.1,0.493),(9187.6,0.499),(9194.1,0.509),(9199.3,0.528),(9204.6,0.547),(9208.5,0.643),(9212.4,0.605),
(9216.9,0.691),(9221.5,0.547),(9226.7,0.518),(9233.2,0.528),(9237.8,0.566),(9241.7,0.585),(9246.3,0.547),(9249.5,0.528),
(9254.1,0.547),(9258.0,0.528),(9262.6,0.509),(9269.1,0.547),(9273.7,0.605),(9277.6,0.672),(9282.2,0.681),(9286.7,0.71),
(9290.6,0.624),(9295.2,0.605),(9298.5,0.605),
]

# fitted continuum (flat zero)
CONT_WAVE = [4750, 9300]
CONT = [0.0, 0.0]

flux = FLUX_A + FLUX_B + FLUX_C + FLUX_D + FLUX_E + FLUX_F
noise = NOISE_A + NOISE_B + NOISE_C + NOISE_D + NOISE_E + NOISE_F
df_flux = pd.DataFrame(flux, columns=["wave", "value"])
df_noise = pd.DataFrame(noise, columns=["wave", "value"])
df_cont = pd.DataFrame({"wave": CONT_WAVE, "value": CONT})

FONT = "DejaVu Sans"

x_enc = alt.X("wave:Q", scale=alt.Scale(domain=X_DOMAIN, nice=False, zero=False),
              axis=alt.Axis(values=X_TICKS, format="d", title=X_TITLE, grid=False, domain=False,
                            labelFontSize=28, titleFontSize=30, labelFont=FONT, titleFont=FONT,
                            titleFontWeight="normal", tickSize=13, tickWidth=2.5, tickColor="black",
                            labelColor="black", titleColor="black", labelPadding=8, titlePadding=11))
y_enc = alt.Y("value:Q", scale=alt.Scale(domain=Y_DOMAIN, nice=False, zero=False),
              axis=alt.Axis(values=Y_TICKS, title=Y_TITLE, grid=False, domain=False,
                            labelExpr="replace(format(datum.value, '.1f'), '-', '\u2212')",
                            labelFontSize=34, titleFontSize=48, labelFont=FONT, titleFont=FONT,
                            titleFontWeight="normal", tickSize=14, tickWidth=2.5, tickColor="black",
                            labelColor="black", titleColor="black", labelPadding=6, titlePadding=34))

cont_line = alt.Chart(df_cont).mark_line(color="#0000ff", strokeWidth=5, clip=True).encode(x=x_enc, y=y_enc)
noise_line = alt.Chart(df_noise).mark_line(color="green", strokeWidth=1.3, clip=True).encode(x=x_enc, y=y_enc, order="wave:Q")
flux_line = alt.Chart(df_flux).mark_line(color="black", strokeWidth=4.2, clip=True).encode(x=x_enc, y=y_enc, order="wave:Q")

chart = alt.layer(cont_line, noise_line, flux_line).properties(
    width=2323, height=697,
    background="white",
    title=alt.TitleParams(TITLE, fontSize=50, font=FONT, fontWeight="normal", color="black",
                          anchor="middle", offset=14),
    padding={"left": 369, "top": 99, "right": 280, "bottom": 92},
    autosize=alt.AutoSizeParams(type="none"),
).configure_view(stroke="black", strokeWidth=2.5)

chart.save("out.html", embed_options={"renderer": "svg", "actions": False})
